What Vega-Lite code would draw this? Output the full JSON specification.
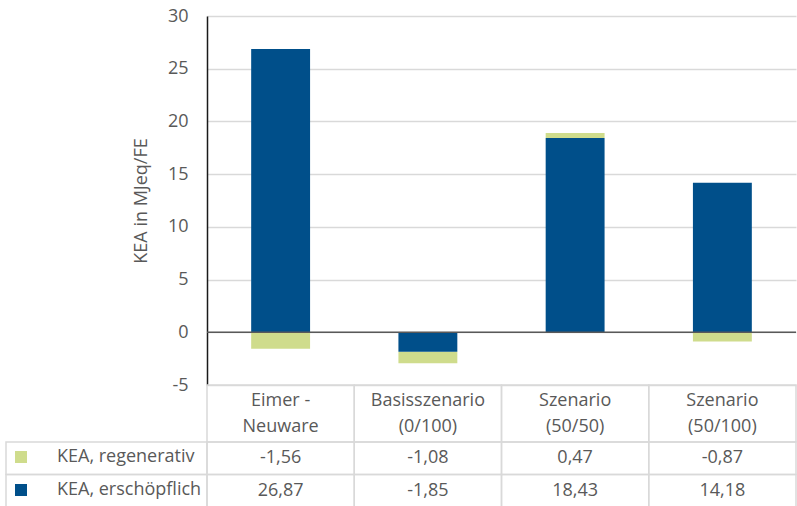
{
  "$schema": "https://vega.github.io/schema/vega-lite/v6.json",
  "padding": {"left": 5, "top": 7, "right": 0, "bottom": 0},
  "config": {
    "font": "Open Sans",
    "view": {"stroke": null},
    "locale": {"number": {"decimal": ",", "thousands": ".", "grouping": [3], "currency": ["", " €"], "minus": "-"}},
    "text": {"fontSize": 18, "color": "#595959"}
  },
  "datasets": {
    "vals": [
      {"cat": "Eimer -\nNeuware", "series": "KEA, regenerativ", "value": -1.56},
      {"cat": "Eimer -\nNeuware", "series": "KEA, erschöpflich", "value": 26.87},
      {"cat": "Basisszenario\n(0/100)", "series": "KEA, regenerativ", "value": -1.08},
      {"cat": "Basisszenario\n(0/100)", "series": "KEA, erschöpflich", "value": -1.85},
      {"cat": "Szenario\n(50/50)", "series": "KEA, regenerativ", "value": 0.47},
      {"cat": "Szenario\n(50/50)", "series": "KEA, erschöpflich", "value": 18.43},
      {"cat": "Szenario\n(50/100)", "series": "KEA, regenerativ", "value": -0.87},
      {"cat": "Szenario\n(50/100)", "series": "KEA, erschöpflich", "value": 14.18}
    ],
    "cats": [
      {"cat": "Eimer -\nNeuware"},
      {"cat": "Basisszenario\n(0/100)"},
      {"cat": "Szenario\n(50/50)"},
      {"cat": "Szenario\n(50/100)"}
    ],
    "series": [
      {"series": "KEA, regenerativ"},
      {"series": "KEA, erschöpflich"}
    ]
  },
  "columns": 2,
  "spacing": 0,
  "bounds": "flush",
  "align": "each",
  "resolve": {"legend": {"color": "independent"}},
  "concat": [
    {
      "width": 201, "height": 369,
      "data": {"values": [{}]},
      "mark": {"type": "text", "text": ""},
      "encoding": {}
    },
    {
      "width": 589, "height": 369,
      "data": {"name": "vals"},
      "layer": [
        {
          "mark": {"type": "bar", "width": {"band": 0.4}},
          "encoding": {
            "x": {"field": "cat", "type": "nominal", "sort": null,
                  "scale": {"domain": ["Eimer -\nNeuware", "Basisszenario\n(0/100)", "Szenario\n(50/50)", "Szenario\n(50/100)"], "paddingInner": 0, "paddingOuter": 0},
                  "axis": null},
            "y": {"field": "value", "type": "quantitative", "stack": "zero",
                  "scale": {"domain": [-5, 30], "nice": false, "zero": false},
                  "axis": {"values": [-5, 0, 5, 10, 15, 20, 25, 30], "title": "KEA in MJeq/FE",
                           "grid": true, "gridColor": "#d9d9d9", "gridWidth": 1.5,
                           "domainColor": "#1a1a1a", "domainWidth": 1.5, "ticks": false,
                           "labelPadding": 19, "labelFontSize": 18, "labelColor": "#595959", "labelFont": "Open Sans",
                           "titleFontSize": 18, "titleFontWeight": "normal", "titleColor": "#595959", "titleFont": "Open Sans",
                           "titlePadding": 17}},
            "color": {"field": "series", "type": "nominal",
                      "scale": {"domain": ["KEA, regenerativ", "KEA, erschöpflich"], "range": ["#CFDC8C", "#004F8A"]},
                      "legend": null},
            "order": {"field": "series", "sort": "ascending"}
          }
        },
        {
          "data": {"values": [{}]},
          "mark": {"type": "rule", "color": "#595959", "strokeWidth": 1.5},
          "encoding": {"y": {"datum": 0}}
        }
      ]
    },
    {
      "width": 201, "height": 57,
      "data": {"values": [{}]},
      "mark": {"type": "text", "text": ""},
      "encoding": {}
    },
    {
      "width": 589, "height": 57,
      "data": {"name": "cats"},
      "encoding": {
        "x": {"field": "cat", "type": "nominal", "sort": null,
              "scale": {"type": "band", "domain": ["Eimer -\nNeuware", "Basisszenario\n(0/100)", "Szenario\n(50/50)", "Szenario\n(50/100)"], "paddingInner": 0, "paddingOuter": 0},
              "axis": null}
      },
      "layer": [
        {"mark": {"type": "rect", "stroke": "#d9d9d9", "strokeWidth": 1.5, "fillOpacity": 0}},
        {"mark": {"type": "text", "lineBreak": "\n", "lineHeight": 26, "baseline": "middle", "dy": -13},
         "encoding": {"text": {"field": "cat"}}}
      ]
    },
    {
      "width": 201, "height": 65,
      "data": {"name": "series"},
      "layer": [
        {
          "mark": {"type": "rect", "stroke": "#d9d9d9", "strokeWidth": 1.5, "fillOpacity": 0},
          "encoding": {
            "y": {"field": "series", "type": "nominal", "sort": null,
                  "scale": {"type": "band", "domain": ["KEA, regenerativ", "KEA, erschöpflich"], "paddingInner": 0, "paddingOuter": 0},
                  "axis": null}
          }
        },
        {
          "transform": [{"filter": "false"}],
          "mark": {"type": "square"},
          "encoding": {
            "color": {"field": "series", "type": "nominal",
                      "scale": {"domain": ["KEA, regenerativ", "KEA, erschöpflich"], "range": ["#CFDC8C", "#004F8A"]},
                      "legend": {"orient": "top-left", "offset": 6, "title": null, "padding": 0,
                                 "labelFontSize": 18, "labelColor": "#595959", "labelFont": "Open Sans",
                                 "symbolType": "square", "symbolSize": 144, "symbolStrokeWidth": 0, "symbolOpacity": 1,
                                 "labelOffset": 27, "rowPadding": 15}}
          }
        }
      ]
    },
    {
      "width": 589, "height": 65,
      "data": {"name": "vals"},
      "encoding": {
        "x": {"field": "cat", "type": "nominal", "sort": null,
              "scale": {"type": "band", "domain": ["Eimer -\nNeuware", "Basisszenario\n(0/100)", "Szenario\n(50/50)", "Szenario\n(50/100)"], "paddingInner": 0, "paddingOuter": 0},
              "axis": null},
        "y": {"field": "series", "type": "nominal", "sort": null,
              "scale": {"type": "band", "domain": ["KEA, regenerativ", "KEA, erschöpflich"], "paddingInner": 0, "paddingOuter": 0},
              "axis": null}
      },
      "layer": [
        {"mark": {"type": "rect", "stroke": "#d9d9d9", "strokeWidth": 1.5, "fillOpacity": 0}},
        {"mark": {"type": "text", "baseline": "middle"},
         "encoding": {"text": {"field": "value", "type": "quantitative", "format": ".2f"}}}
      ]
    }
  ]
}
